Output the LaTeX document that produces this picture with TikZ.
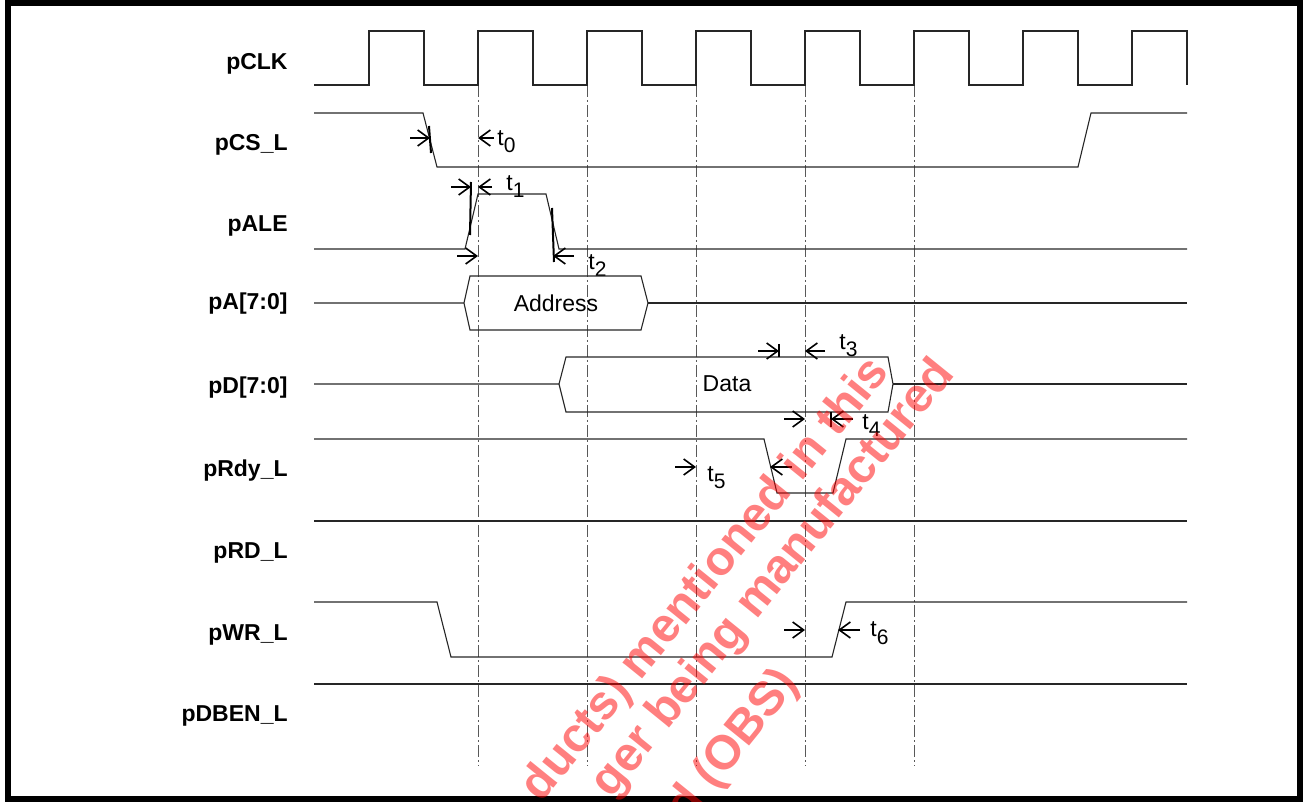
\documentclass[tikz,border=0pt]{standalone}
\usepackage{fontspec}
\setmainfont{Liberation Sans}
\usetikzlibrary{arrows.meta}
\newcommand{\tsb}[1]{t\raisebox{-3.5pt}{\fontsize{10.5}{11}\selectfont #1}}
\begin{document}
\begin{tikzpicture}[x=0.5pt,y=-0.5pt,
 sig/.style={line width=0.55pt, black!85},
 gridl/.style={line width=0.5pt, black!65, dash pattern=on 6pt off 1.5pt on 1pt off 1.5pt},
 arr/.style={line width=0.8pt, -{Straight Barb[length=5.5pt,width=8pt]}},
 tick/.style={line width=1pt},
 lbl/.style={font=\fontsize{11.5}{13}\selectfont\bfseries, anchor=base east, inner sep=0pt},
 tl/.style={font=\fontsize{11.5}{12}\selectfont, anchor=base west, inner sep=0pt},
 bus/.style={font=\fontsize{11.5}{13}\selectfont, inner sep=0pt},
 wm/.style={font=\fontsize{24}{28}\selectfont\bfseries, text=red, text opacity=0.5, rotate=51, anchor=base east, inner sep=0pt}
]
\useasboundingbox (0,0) rectangle (1303,802);
\draw[line width=3pt] (8,3) rectangle (1300,799);

% labels
\node[lbl] (lclk) at (288,70) {pCLK};
\node[lbl] (lcs) at (288,151) {pCS\_L};
\node[lbl] (lale) at (288,232) {pALE};
\node[lbl] (la) at (288,310) {pA[7:0]};
\node[lbl] (ld) at (288,394) {pD[7:0]};
\node[lbl] (lrdy) at (288,477) {pRdy\_L};
\node[lbl] (lrd) at (288,559) {pRD\_L};
\node[lbl] (lwr) at (288,640) {pWR\_L};
\node[lbl] (ldben) at (288,721) {pDBEN\_L};

% grid lines
\foreach \x in {478,587,696,805,914} \draw[gridl] (\x,85) -- (\x,766);

% clock
\draw[sig] (314,85) -- (369,85) -- (369,31) -- (424,31) -- (424,85) -- (478,85) -- (478,31) -- (533,31) -- (533,85) -- (587,85) -- (587,31) -- (642,31) -- (642,85) -- (696,85) -- (696,31) -- (751,31) -- (751,85) -- (805,85) -- (805,31) -- (860,31) -- (860,85) -- (914,85) -- (914,31) -- (969,31) -- (969,85) -- (1023,85) -- (1023,31) -- (1078,31) -- (1078,85) -- (1132,85) -- (1132,31) -- (1187,31) -- (1187,85);

% pCS_L
\draw[sig] (314,113) -- (423,113) -- (437,167) -- (1078,167) -- (1091,113) -- (1187,113);
\draw[arr] (410,138) -- (430,138);
\draw[tick] (429,126) -- (431,153);
\draw[arr] (494,138) -- (478,138);
\node[tl] (t0) at (497,146) {\tsb{0}};

% pALE
\draw[sig] (314,249) -- (465,249) -- (478,194) -- (546,194) -- (559,249) -- (1187,249);
\draw[arr] (451,187) -- (471,187);
\draw[tick] (471,182) -- (470,235);
\draw[arr] (492,187) -- (478,187);
\node[tl] (t1) at (506,191) {\tsb{1}};
\draw[arr] (457,256) -- (478,256);
\draw[tick] (552,208) -- (554,262);
\draw[arr] (574,256) -- (553,256);
\node[tl] (t2) at (588,270) {\tsb{2}};

% pA
\draw[sig] (314,303) -- (464,303) -- (470,276) -- (641,276) -- (648,303) -- (641,330) -- (470,330) -- (464,303);
\draw[sig] (648,303) -- (1187,303);
\node[bus] (addr) at (556,303) {Address};

% pD
\draw[sig] (314,384) -- (559,384) -- (566,357) -- (888,357) -- (893,384) -- (888,412) -- (566,412) -- (559,384);
\draw[sig] (893,384) -- (1187,384);
\node[bus] (data) at (727,384) {Data};
\draw[arr] (758,351) -- (779,351);
\draw[tick] (779,344) -- (779,357);
\draw[arr] (825,351) -- (805,351);
\node[tl] (t3) at (839,350) {\tsb{3}};
\draw[arr] (784,419) -- (805,419);
\draw[tick] (831,412) -- (831,427);
\draw[arr] (853,419) -- (831,419);
\node[tl] (t4) at (862,430) {\tsb{4}};

% pRdy_L
\draw[sig] (314,439) -- (764,439) -- (777,493) -- (833,493) -- (846,439) -- (1187,439);
\draw[arr] (675,467) -- (696,467);
\node[tl] (t5) at (707,482) {\tsb{5}};
\draw[arr] (792,467) -- (770,467);

% pRD_L
\draw[sig] (314,521) -- (1187,521);

% pWR_L
\draw[sig] (314,602) -- (437,602) -- (451,657) -- (832,657) -- (846,602) -- (1187,602);
\draw[arr] (784,630) -- (805,630);
\draw[arr] (860,630) -- (838,630);
\node[tl] (t6) at (870,637) {\tsb{6}};

% pDBEN_L
\draw[sig] (314,684) -- (1187,684);

% watermark
\node[wm] (w1) at (891,372) {ducts) mentioned in this};
\node[wm] (w2) at (956,374) {ger being manufactured};
\node[wm] (w3) at (800,684) {d (OBS)};
\end{tikzpicture}
\end{document}
